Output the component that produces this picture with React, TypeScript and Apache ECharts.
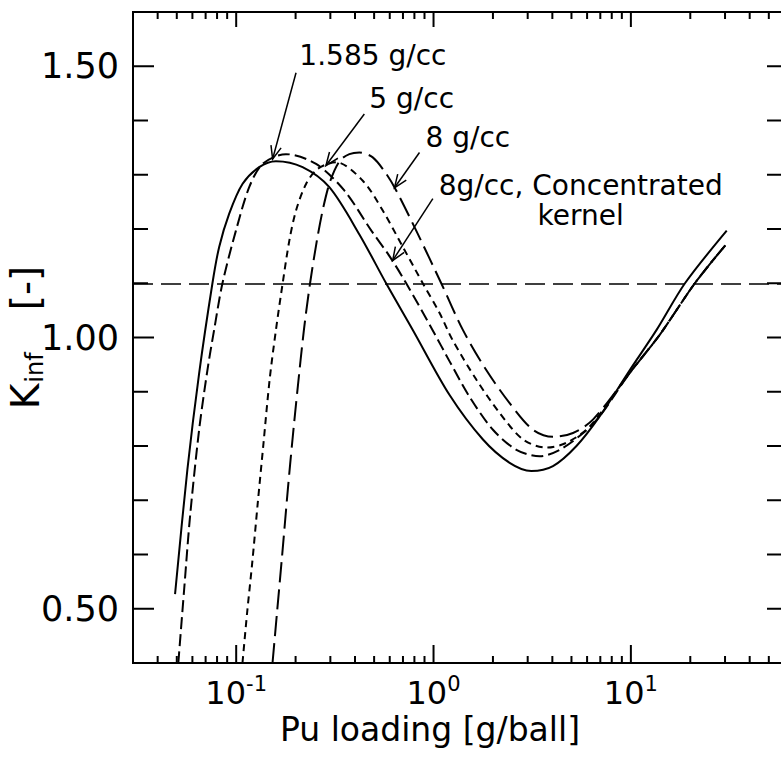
import React, { useEffect, useRef } from "react";
import * as echarts from "echarts";

// ---- axis ranges ----
const X_MIN = 0.03;
const X_MAX = 59;
const Y_MIN = 0.4;
const Y_MAX = 1.6;

// ---- tick values ----
const xMajorTicks = [0.1, 1, 10];
const xMinorTicks = [0.04, 0.05, 0.06, 0.07, 0.08, 0.09, 0.2, 0.3, 0.4, 0.5, 0.6, 0.7, 0.8, 0.9, 2, 3, 4, 5, 6, 7, 8, 9, 20, 30, 40, 50];
const xLabelExponents = [-1, 0, 1];
const yMajorTicks = [0.5, 1.0, 1.5];
const yMinorTicks = [0.6, 0.7, 0.8, 0.9, 1.1, 1.2, 1.3, 1.4];

// ---- reference level ----
const criticalK = 1.1;

// ---- 1.585 g/cc (solid) ----
const solidX = [0.049, 0.0566, 0.0649, 0.0758, 0.082, 0.0921, 0.1076, 0.1308, 0.159, 0.217, 0.2965, 0.421, 0.575, 0.785, 1.206, 1.78, 2.43, 3.13, 4.03, 5.3, 6.96, 9.88, 13.5, 18.8, 30.6];
const solidK = [0.527, 0.757, 0.934, 1.1, 1.167, 1.228, 1.283, 1.314, 1.325, 1.314, 1.277, 1.19, 1.1, 1.014, 0.894, 0.812, 0.769, 0.754, 0.763, 0.8, 0.855, 0.94, 1.014, 1.1, 1.197];

// ---- 8 g/cc, concentrated kernel (medium dashes) ----
const kernelX = [0.0509, 0.0545, 0.0584, 0.0649, 0.0715, 0.0773, 0.0852, 0.0997, 0.1164, 0.136, 0.1788, 0.254, 0.353, 0.484, 0.598, 0.727, 0.988, 1.206, 1.52, 2.0, 2.63, 3.45, 4.36, 5.73, 6.96, 9.88, 14.0, 21.1, 30.1];
const kernelK = [0.4, 0.536, 0.671, 0.83, 0.94, 1.014, 1.1, 1.197, 1.277, 1.32, 1.338, 1.32, 1.271, 1.197, 1.15, 1.1, 1.014, 0.956, 0.891, 0.83, 0.793, 0.781, 0.793, 0.824, 0.855, 0.935, 1.005, 1.1, 1.17];

// ---- 5 g/cc (short dashes) ----
const fiveX = [0.1076, 0.1137, 0.1206, 0.1287, 0.1376, 0.1477, 0.159, 0.172, 0.186, 0.201, 0.226, 0.259, 0.321, 0.438, 0.553, 0.699, 0.882, 1.073, 1.25, 1.65, 2.16, 2.84, 3.73, 4.72, 6.19, 9.88, 14.0, 21.1, 30.1];
const fiveK = [0.4, 0.494, 0.585, 0.696, 0.806, 0.922, 1.014, 1.1, 1.179, 1.234, 1.283, 1.311, 1.323, 1.289, 1.234, 1.167, 1.1, 1.045, 0.995, 0.922, 0.861, 0.812, 0.797, 0.806, 0.836, 0.935, 1.005, 1.1, 1.17];

// ---- 8 g/cc (long dashes) ----
const eightX = [0.1528, 0.1611, 0.1708, 0.1827, 0.1929, 0.2045, 0.2204, 0.2368, 0.2565, 0.2764, 0.3, 0.3352, 0.3746, 0.421, 0.492, 0.575, 0.647, 0.817, 1.094, 1.408, 1.85, 2.43, 3.19, 4.03, 5.09, 6.44, 9.88, 14.0, 21.1, 30.1];
const eightK = [0.4, 0.494, 0.597, 0.72, 0.812, 0.904, 1.014, 1.1, 1.179, 1.24, 1.289, 1.326, 1.338, 1.341, 1.332, 1.302, 1.271, 1.197, 1.1, 1.014, 0.94, 0.879, 0.83, 0.817, 0.824, 0.849, 0.935, 1.005, 1.1, 1.17];

// ---- annotations (data coordinates) ----
const annotationTexts = ["1.585 g/cc", "5 g/cc", "8 g/cc", "8g/cc, Concentrated", "kernel"];
const annotationTextAt: [number, number][] = [[0.209, 1.5206], [0.473, 1.4398], [0.911, 1.368], [5.57, 1.2805], [5.57, 1.225]];
const annotationAlign = ["left", "left", "left", "center", "center"];
const arrowTail: [number, number][] = [[0.201, 1.488], [0.446, 1.412], [0.849, 1.341], [0.992, 1.256]];
const arrowTip: [number, number][] = [[0.153, 1.329], [0.285, 1.317], [0.634, 1.276], [0.621, 1.142]];

const FONT = '"DejaVu Sans", "Liberation Sans", Arial, sans-serif';

const zip = (xs: number[], ys: number[]) => xs.map((x, i) => [x, ys[i]]);

export default function App() {
  const ref = useRef<HTMLDivElement>(null);

  useEffect(() => {
    const el = ref.current;
    if (!el) return;
    const chart = echarts.init(el, null, { renderer: "svg" });

    const line = (name: string, xs: number[], ks: number[], type: any) => ({
      type: "line",
      name,
      data: zip(xs, ks),
      showSymbol: false,
      symbol: "none",
      smooth: 0.3,
      clip: true,
      silent: true,
      lineStyle: { color: "#000", width: 2, type },
    });

    const option: any = {
      animation: false,
      backgroundColor: "#fff",
      grid: {
        left: 133,
        top: 12,
        right: -2,
        bottom: 105,
        show: true,
        borderColor: "#000",
        borderWidth: 2,
        backgroundColor: "transparent",
        containLabel: false,
        outerBoundsMode: "none",
      },
      xAxis: {
        type: "log",
        logBase: 10,
        min: X_MIN,
        max: X_MAX,
        axisLine: { show: false },
        axisTick: { show: false },
        splitLine: { show: false },
        minorTick: { show: false },
        name: "Pu loading [g/ball]",
        nameLocation: "middle",
        nameGap: 50,
        nameMoveOverlap: false,
        nameTextStyle: { fontFamily: FONT, fontSize: 33, color: "#000", padding: [0, 56, 0, 0] },
        axisLabel: {
          margin: 10,
          color: "#000",
          showMinLabel: true,
          showMaxLabel: true,
          hideOverlap: false,
          formatter: (v: number) => {
            const l = Math.log10(v);
            const r = Math.round(l);
            if (Math.abs(l - r) > 1e-6 || !xLabelExponents.includes(r)) return "";
            return `{b|10}{s|${r}}`;
          },
          rich: {
            b: { fontFamily: FONT, fontSize: 32, color: "#000", lineHeight: 40, verticalAlign: "middle" },
            s: { fontFamily: FONT, fontSize: 21, color: "#000", verticalAlign: "top" },
          },
        },
      },
      yAxis: {
        type: "value",
        min: Y_MIN,
        max: Y_MAX,
        interval: 0.1,
        axisLine: { show: false },
        axisTick: { show: false },
        splitLine: { show: false },
        name: "{k|K}{s|inf}{k|[-]}",
        nameLocation: "middle",
        nameGap: 86,
        nameMoveOverlap: false,
        nameTextStyle: {
          rich: {
            k: { fontFamily: FONT, fontSize: 39, color: "#000", lineHeight: 44, verticalAlign: "middle" },
            s: { fontFamily: FONT, fontSize: 24, color: "#000", verticalAlign: "bottom", padding: [0, 42, 0, 1] },
          },
        },
        axisLabel: {
          margin: 14,
          color: "#000",
          fontFamily: FONT,
          fontSize: 35,
          formatter: (v: number) => (yMajorTicks.some((t) => Math.abs(t - v) < 1e-6) ? v.toFixed(2) : ""),
        },
      },
      series: [
        {
          ...line("1.585 g/cc", solidX, solidK, "solid"),
          markLine: {
            silent: true,
            symbol: "none",
            label: { show: false },
            lineStyle: { color: "#000", width: 1.6, type: [20, 8] },
            data: [{ yAxis: criticalK }],
          },
        },
        line("8g/cc, Concentrated kernel", kernelX, kernelK, [12, 5]),
        line("5 g/cc", fiveX, fiveK, [7, 5]),
        line("8 g/cc", eightX, eightK, [20, 7]),
      ],
    };

    chart.setOption(option);

    const px = (x: number, y: number) => chart.convertToPixel({ gridIndex: 0 }, [x, y]) as number[];
    const g: any[] = [];
    const seg = (x1: number, y1: number, x2: number, y2: number, w = 2) =>
      g.push({ type: "line", silent: true, shape: { x1, y1, x2, y2 }, style: { stroke: "#000", lineWidth: w } });

    const bottomY = px(X_MIN, Y_MIN)[1];
    const topY = px(X_MIN, Y_MAX)[1];
    const leftX = px(X_MIN, Y_MIN)[0];
    const rightX = px(X_MAX, Y_MIN)[0];

    xMajorTicks.forEach((v) => {
      const x = px(v, Y_MIN)[0];
      seg(x, bottomY, x, bottomY - 18);
      seg(x, topY, x, topY + 15);
    });
    xMinorTicks.forEach((v) => {
      const x = px(v, Y_MIN)[0];
      seg(x, bottomY, x, bottomY - 7);
      seg(x, topY, x, topY + 7);
    });
    yMajorTicks.forEach((v) => {
      const y = px(X_MIN, v)[1];
      seg(leftX, y, leftX + 21, y);
      seg(rightX, y, rightX - 16, y);
    });
    yMinorTicks.forEach((v) => {
      const y = px(X_MIN, v)[1];
      seg(leftX, y, leftX + 15, y);
      seg(rightX, y, rightX - 16, y);
    });

    annotationTexts.forEach((t, i) => {
      const [tx, ty] = px(annotationTextAt[i][0], annotationTextAt[i][1]);
      g.push({
        type: "text",
        silent: true,
        x: tx,
        y: ty,
        style: {
          text: t,
          fill: "#000",
          font: `28px ${FONT}`,
          fontSize: 28,
          fontFamily: FONT,
          align: annotationAlign[i],
          textAlign: annotationAlign[i],
          verticalAlign: "middle",
          textVerticalAlign: "middle",
        },
      });
    });

    arrowTail.forEach((tail, i) => {
      const [ax, ay] = px(tail[0], tail[1]);
      const [bx, by] = px(arrowTip[i][0], arrowTip[i][1]);
      seg(ax, ay, bx, by, 1.5);
      const ang = Math.atan2(by - ay, bx - ax);
      const L = 14;
      const spread = (22 * Math.PI) / 180;
      const h1 = [bx - L * Math.cos(ang - spread), by - L * Math.sin(ang - spread)];
      const h2 = [bx - L * Math.cos(ang + spread), by - L * Math.sin(ang + spread)];
      g.push({
        type: "polyline",
        silent: true,
        shape: { points: [h1, [bx, by], h2] },
        style: { stroke: "#000", lineWidth: 1.5, fill: null },
      });
    });

    chart.setOption({ graphic: { elements: g } });

    return () => chart.dispose();
  }, []);

  return (
    <div
      ref={ref}
      style={{ position: "fixed", left: 0, top: 0, width: 781, height: 768, background: "#fff" }}
    />
  );
}
